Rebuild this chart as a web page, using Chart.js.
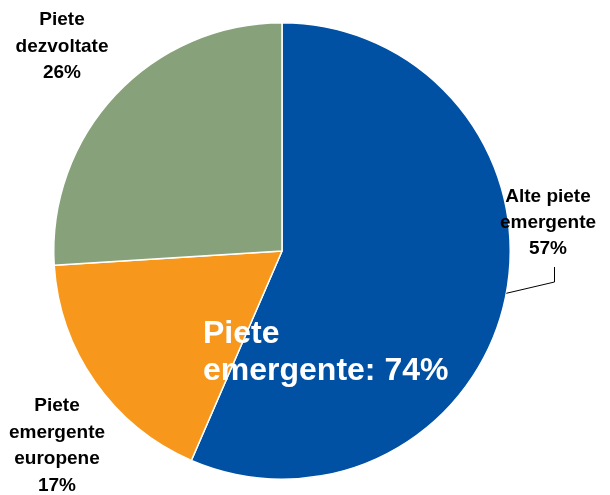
<!DOCTYPE html>
<html>
<head>
<meta charset="utf-8">
<script src="https://cdn.jsdelivr.net/npm/chart.js@4/dist/chart.umd.min.js"></script>
<style>
  body { margin: 0; background: #fff; }
  canvas { display: block; }
</style>
</head>
<body>
<canvas id="pieChart" width="610" height="495"></canvas>
<script>
const categories = [
  ['Alte piete', 'emergente'],
  ['Piete', 'emergente', 'europene'],
  ['Piete', 'dezvoltate']
];
// slice sizes as drawn in the picture; printed labels are the rounded figures
const shares = [56.5, 17.5, 26];
const shareLabels = ['57%', '17%', '26%'];
const sliceColors = ['#0050a4', '#f7981d', '#87a27a'];
const overlayLines = ['Piete', 'emergente: 74%'];

// where each outside label sits (centre x, first line y, line height)
const labelSpots = [
  { x: 548, y: 197, lh: 26 },
  { x: 57, y: 406, lh: 26.5 },
  { x: 62, y: 20, lh: 26.5 }
];

const labelsPlugin = {
  id: 'sliceLabels',
  afterDatasetsDraw(chart) {
    const ctx = chart.ctx;
    const arcs = chart.getDatasetMeta(0).data;
    ctx.save();

    // leader line for the big slice
    const a = arcs[0];
    const ang = a.startAngle + (a.endAngle - a.startAngle) * 0.495;
    const sx = a.x + Math.cos(ang) * a.outerRadius;
    const sy = a.y + Math.sin(ang) * a.outerRadius;
    ctx.strokeStyle = '#000';
    ctx.lineWidth = 1;
    ctx.beginPath();
    ctx.moveTo(sx, sy);
    ctx.lineTo(554.5, 282);
    ctx.lineTo(554.5, 267);
    ctx.stroke();

    ctx.fillStyle = '#000';
    ctx.font = 'bold 19px "Liberation Sans", Arial, sans-serif';
    ctx.textAlign = 'center';
    ctx.textBaseline = 'middle';
    categories.forEach((lines, i) => {
      const spot = labelSpots[i];
      const all = lines.concat([shareLabels[i]]);
      all.forEach((t, k) => ctx.fillText(t, spot.x, spot.y + k * spot.lh));
    });

    // combined emerging share written on the pie
    ctx.fillStyle = '#fff';
    ctx.font = 'bold 32px "Liberation Sans", Arial, sans-serif';
    ctx.textAlign = 'left';
    ctx.fillText(overlayLines[0], 203, 334);
    ctx.fillText(overlayLines[1], 203, 371);
    ctx.restore();
  }
};

new Chart(document.getElementById('pieChart').getContext('2d'), {
  type: 'pie',
  data: {
    labels: categories.map(c => c.join(' ')),
    datasets: [{
      data: shares,
      backgroundColor: sliceColors,
      borderColor: '#fff',
      borderWidth: 1.5
    }]
  },
  options: {
    responsive: false,
    animation: false,
    layout: { padding: { left: 53, right: 99, top: 22, bottom: 15 } },
    plugins: {
      legend: { display: false },
      tooltip: { enabled: false }
    }
  },
  plugins: [labelsPlugin]
});
</script>
</body>
</html>
